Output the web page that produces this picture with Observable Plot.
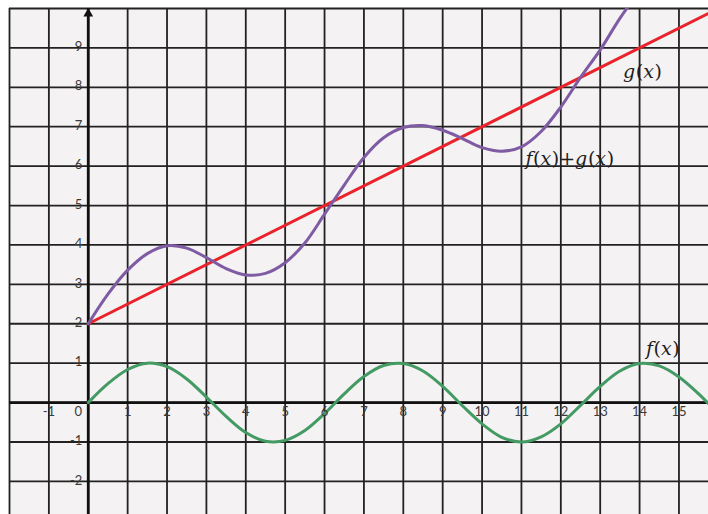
<!DOCTYPE html>
<html>
<head>
<meta charset="utf-8">
<script src="https://cdn.jsdelivr.net/npm/d3@7"></script>
<script src="https://cdn.jsdelivr.net/npm/@observablehq/plot@0.6"></script>
<style>
  html, body { margin: 0; padding: 0; background: #ffffff; }
  #chart svg { display: block; }
</style>
</head>
<body>
<div id="chart"></div>
<script>
// f(x), x = 0, 0.5, ..., 16
const fX = [0,0.5,1,1.5,2,2.5,3,3.5,4,4.5,5,5.5,6,6.5,7,7.5,8,8.5,9,9.5,10,10.5,11,11.5,12,12.5,13,13.5,14,14.5,15,15.5,16];
const fY = [0,0.48,0.84,1.0,0.91,0.6,0.14,-0.35,-0.76,-0.98,-0.96,-0.71,-0.28,0.22,0.66,0.94,0.99,0.8,0.41,-0.08,-0.54,-0.88,-1.0,-0.87,-0.54,-0.07,0.41,0.8,0.99,0.93,0.65,0.22,-0.29];
// g(x): straight line
const gX = [0, 16];
const gY = [2, 10];
// f(x)+g(x)
const sX = [0,0.5,1,1.5,2,2.5,3,3.5,4,4.5,5,5.5,6,6.5,7,7.5,8,8.5,9,9.5,10,10.5,11,11.5,12,12.5,13,13.5,14];
const sY = [2.0,2.75,3.36,3.78,3.98,3.92,3.68,3.4,3.24,3.28,3.55,4.05,4.78,5.52,6.22,6.72,6.98,7.03,6.91,6.7,6.47,6.38,6.49,6.88,7.5,8.25,8.95,9.75,10.45];
// axis tick labels
const xTicks = [-1,1,2,3,4,5,6,7,8,9,10,11,12,13,14,15];
const yTicks = [-2,-1,1,2,3,4,5,6,7,8,9];
const gridX = [-2,-1,0,1,2,3,4,5,6,7,8,9,10,11,12,13,14,15];
const gridY = [-2,-1,0,1,2,3,4,5,6,7,8,9,10];
// curve labels
const labelText = ["g(x)", "f(x)+g(x)", "f(x)"];
const labelX = [13.58, 11.1, 14.16];
const labelY = [8.4, 6.19, 1.37];

const fData = fX.map((x, i) => ({x, y: fY[i]}));
const gData = gX.map((x, i) => ({x, y: gY[i]}));
const sData = sX.map((x, i) => ({x, y: sY[i]}));
const labels = labelText.map((t, i) => ({t, x: labelX[i], y: labelY[i]}));

const tickFont = "Lato, 'DejaVu Sans', sans-serif";

const chart = Plot.plot({
  width: 708,
  height: 514,
  marginLeft: 9,
  marginTop: 8,
  marginRight: 0,
  marginBottom: 0,
  style: {background: "#ffffff"},
  x: {domain: [-2, 15.75], axis: null},
  y: {domain: [-2.84, 10], axis: null},
  marks: [
    Plot.frame({fill: "#f4f2f3", stroke: null}),
    Plot.ruleX(gridX, {stroke: "#222222", strokeWidth: 1.8}),
    Plot.ruleY(gridY, {stroke: "#222222", strokeWidth: 1.8}),
    Plot.ruleX([0], {stroke: "#111111", strokeWidth: 2.8}),
    Plot.ruleY([0], {stroke: "#111111", strokeWidth: 2.6}),
    Plot.dot([{x: 0, y: 9.87}], {x: "x", y: "y", symbol: "triangle", r: 3.6, fill: "#111111", stroke: null}),
    Plot.line(gData, {x: "x", y: "y", stroke: "#e8232b", strokeWidth: 3, clip: true}),
    Plot.line(sData, {x: "x", y: "y", stroke: "#7e5ba3", strokeWidth: 3, curve: "catmull-rom", clip: true}),
    Plot.line(fData, {x: "x", y: "y", stroke: "#439a63", strokeWidth: 3, curve: "catmull-rom", clip: true}),
    Plot.text(xTicks, {x: d => d, y: 0, text: d => String(d), dy: 9, fill: "#3a3a3a", fontSize: 13, fontFamily: tickFont}),
    Plot.text([0], {x: d => d, y: 0, text: d => String(d), dx: -10, dy: 9, fill: "#3a3a3a", fontSize: 13, fontFamily: tickFont}),
    Plot.text(yTicks, {x: 0, y: d => d, text: d => String(d), dx: -6, dy: -1, textAnchor: "end", fill: "#3a3a3a", fontSize: 13, fontFamily: tickFont}),
    Plot.text(labels, {x: "x", y: "y", text: "t", textAnchor: "start", fill: "#1e1e1e", fontSize: 19, fontFamily: "'DejaVu Serif', serif"})
  ]
});

// math-style labels: italic letters, upright parentheses and plus
d3.select(chart).selectAll("text").each(function() {
  const s = this.textContent;
  if (!labelText.includes(s)) return;
  const el = d3.select(this);
  el.text(null);
  for (const ch of s) {
    const isLetter = /[a-z]/i.test(ch);
    el.append("tspan")
      .attr("font-style", isLetter ? "italic" : "normal")
      .attr("font-family", "'DejaVu Serif', serif")
      .attr("letter-spacing", isLetter ? "0.6" : "0")
      .text(ch);
  }
});

document.getElementById("chart").appendChild(chart);
</script>
</body>
</html>
